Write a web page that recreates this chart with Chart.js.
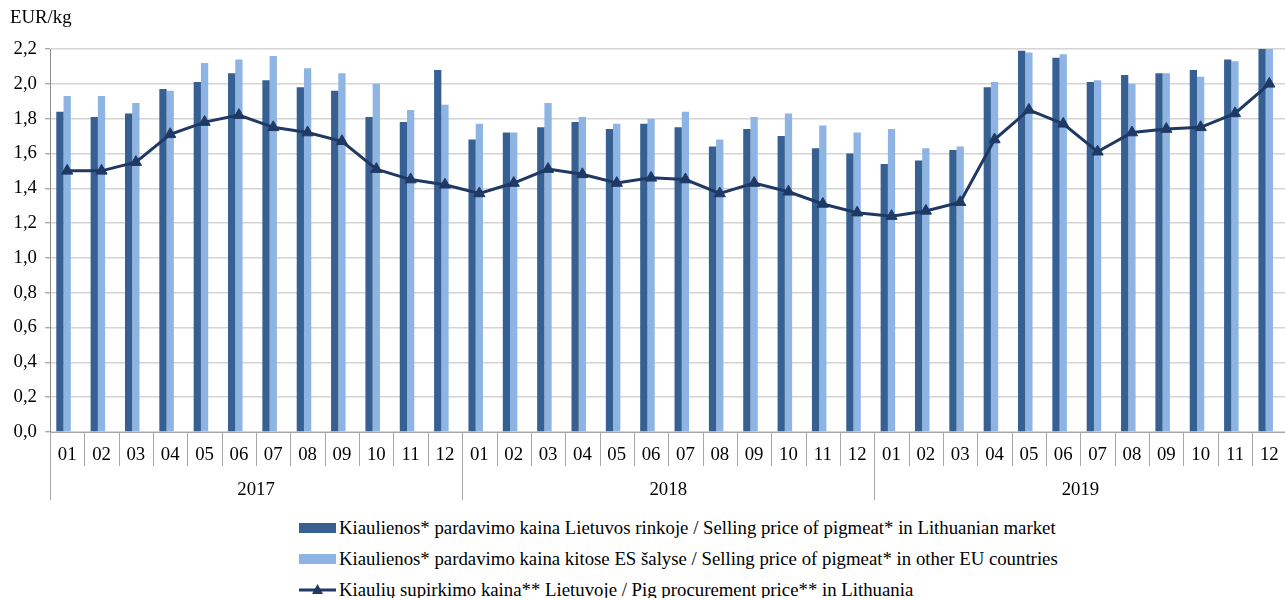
<!DOCTYPE html>
<html>
<head>
<meta charset="utf-8">
<script src="https://cdn.jsdelivr.net/npm/chart.js@4/dist/chart.umd.min.js"></script>
<style>
  html, body { margin: 0; padding: 0; background: #fff; overflow: hidden; width: 1285px; height: 598px; }
  #clip { position: relative; width: 1285px; height: 598px; overflow: hidden; }
  #wrap { position: absolute; left: 0; top: 0; width: 1294px; height: 505px; }
  #c { display: block; width: 1294px; height: 505px; }
  #legend { position: absolute; left: 299px; top: 513px; font-family: 'Liberation Serif', 'Times New Roman', serif; font-size: 18.8px; color: #000; }
  .row { height: 30.7px; display: flex; align-items: center; white-space: nowrap; }
  .sym { width: 37px; height: 10px; margin-right: 3px; flex: none; }
  svg.sym { height: 14px; }
</style>
</head>
<body>
<div id="clip">
<div id="wrap"><canvas id="c" width="1294" height="505"></canvas></div>
<div id="legend"></div>
</div>
<script>
const years = ['2017', '2018', '2019'];
const months = ['01','02','03','04','05','06','07','08','09','10','11','12'];
const yTicks = [0, 0.2, 0.4, 0.6, 0.8, 1.0, 1.2, 1.4, 1.6, 1.8, 2.0, 2.2];

const seriesNames = [
  'Kiaulienos* pardavimo kaina Lietuvos rinkoje / Selling price of pigmeat* in Lithuanian market',
  'Kiaulienos* pardavimo kaina kitose ES šalyse / Selling price of pigmeat* in other EU countries',
  'Kiaulių supirkimo kaina** Lietuvoje / Pig procurement price** in Lithuania'
];

const lithuanianMarket = [
  1.84, 1.81, 1.83, 1.97, 2.01, 2.06, 2.02, 1.98, 1.96, 1.81, 1.78, 2.08,
  1.68, 1.72, 1.75, 1.78, 1.74, 1.77, 1.75, 1.64, 1.74, 1.70, 1.63, 1.60,
  1.54, 1.56, 1.62, 1.98, 2.19, 2.15, 2.01, 2.05, 2.06, 2.08, 2.14, 2.25
];
const otherEU = [
  1.93, 1.93, 1.89, 1.96, 2.12, 2.14, 2.16, 2.09, 2.06, 2.00, 1.85, 1.88,
  1.77, 1.72, 1.89, 1.81, 1.77, 1.80, 1.84, 1.68, 1.81, 1.83, 1.76, 1.72,
  1.74, 1.63, 1.64, 2.01, 2.18, 2.17, 2.02, 2.00, 2.06, 2.04, 2.13, 2.22
];
const procurement = [
  1.50, 1.50, 1.55, 1.71, 1.78, 1.82, 1.75, 1.72, 1.67, 1.51, 1.45, 1.42,
  1.37, 1.43, 1.51, 1.48, 1.43, 1.46, 1.45, 1.37, 1.43, 1.38, 1.31, 1.26,
  1.24, 1.27, 1.32, 1.68, 1.85, 1.77, 1.61, 1.72, 1.74, 1.75, 1.83, 2.00
];

const colors = { dark: '#376092', light: '#8DB4E2', line: '#1F3864' };
const FONT = "'Liberation Serif', 'Times New Roman', serif";
const FSIZE = 18.8;

const labels = [];
years.forEach(y => months.forEach(m => labels.push(y + '-' + m)));

const framePlugin = {
  id: 'frame',
  afterDraw(chart) {
    const ctx = chart.ctx;
    const x = chart.scales.x;
    const area = chart.chartArea;
    const half = (x.getPixelForValue(1) - x.getPixelForValue(0)) / 2;
    const base = area.bottom;
    ctx.save();
    ctx.strokeStyle = '#A6A6A6';
    ctx.lineWidth = 1;
    for (let i = 0; i <= labels.length; i++) {
      const px = Math.round((i < labels.length ? x.getPixelForValue(i) - half : x.getPixelForValue(i - 1) + half)) + 0.5;
      const isYear = i % months.length === 0;
      ctx.beginPath();
      ctx.moveTo(px, base);
      ctx.lineTo(px, base + (isYear ? 68 : 34));
      ctx.stroke();
    }
    ctx.fillStyle = '#000';
    ctx.font = FSIZE + 'px ' + FONT;
    ctx.textAlign = 'center';
    ctx.textBaseline = 'middle';
    years.forEach((y, k) => {
      const a = x.getPixelForValue(k * months.length) - half;
      const b = x.getPixelForValue((k + 1) * months.length - 1) + half;
      ctx.fillText(y, (a + b) / 2, base + 58);
    });
    ctx.textAlign = 'left';
    ctx.fillText('EUR/kg', 10, 18);
    ctx.restore();
  }
};

new Chart(document.getElementById('c'), {
  data: {
    labels: labels,
    datasets: [
      { type: 'line', label: seriesNames[2], data: procurement, order: 0,
        borderColor: colors.line, backgroundColor: colors.line, borderWidth: 3,
        pointStyle: 'triangle', pointRadius: 6.5, pointBackgroundColor: colors.line,
        pointBorderColor: colors.line, pointBorderWidth: 1, tension: 0 },
      { type: 'bar', label: seriesNames[0], data: lithuanianMarket, order: 1,
        backgroundColor: colors.dark, barPercentage: 1, categoryPercentage: 0.634 },
      { type: 'bar', label: seriesNames[1], data: otherEU, order: 1,
        backgroundColor: colors.light, barPercentage: 1, categoryPercentage: 0.634 },
      { type: 'bar', label: '', data: labels.map(() => null), order: 1,
        backgroundColor: 'rgba(0,0,0,0)', barPercentage: 1, categoryPercentage: 0.634 }
    ]
  },
  options: {
    responsive: false,
    maintainAspectRatio: false,
    devicePixelRatio: 1,
    animation: false,
    layout: { padding: { top: 49, right: 0, bottom: 0, left: 0 } },
    plugins: { legend: { display: false }, tooltip: { enabled: false }, title: { display: false } },
    scales: {
      x: {
        type: 'category',
        offset: true,
        grid: { display: false, drawTicks: false },
        border: { display: true, color: '#A6A6A6', width: 1 },
        ticks: {
          font: { family: FONT, size: FSIZE }, color: '#000', padding: 12,
          maxRotation: 0, autoSkip: false,
          callback: (v, i) => months[i % months.length]
        },
        afterFit: s => { s.height = 73; }
      },
      y: {
        min: 0, max: 2.2,
        afterBuildTicks: s => { s.ticks = yTicks.map(v => ({ value: v })); },
        grid: { color: '#D4D4D4', lineWidth: 1.5, tickLength: 5, tickColor: '#8C8C8C', tickWidth: 1 },
        border: { display: true, color: '#8C8C8C', width: 1 },
        ticks: {
          font: { family: FONT, size: FSIZE }, color: '#000', padding: 8,
          callback: v => v.toFixed(1).replace('.', ',')
        },
        afterFit: s => { s.width = 50; }
      }
    }
  },
  plugins: [framePlugin]
});

// HTML legend
const leg = document.getElementById('legend');
const symbols = [
  `<div class="sym" style="background:${colors.dark}"></div>`,
  `<div class="sym" style="background:${colors.light}"></div>`,
  `<svg class="sym" viewBox="0 0 37 14"><line x1="0" y1="7" x2="37" y2="7" stroke="${colors.line}" stroke-width="3"/><polygon points="18.5,1 24,11 13,11" fill="${colors.line}"/></svg>`
];
seriesNames.forEach((name, i) => {
  const row = document.createElement('div');
  row.className = 'row';
  row.innerHTML = symbols[i] + '<span></span>';
  row.querySelector('span').textContent = name;
  leg.appendChild(row);
});
</script>
</body>
</html>
